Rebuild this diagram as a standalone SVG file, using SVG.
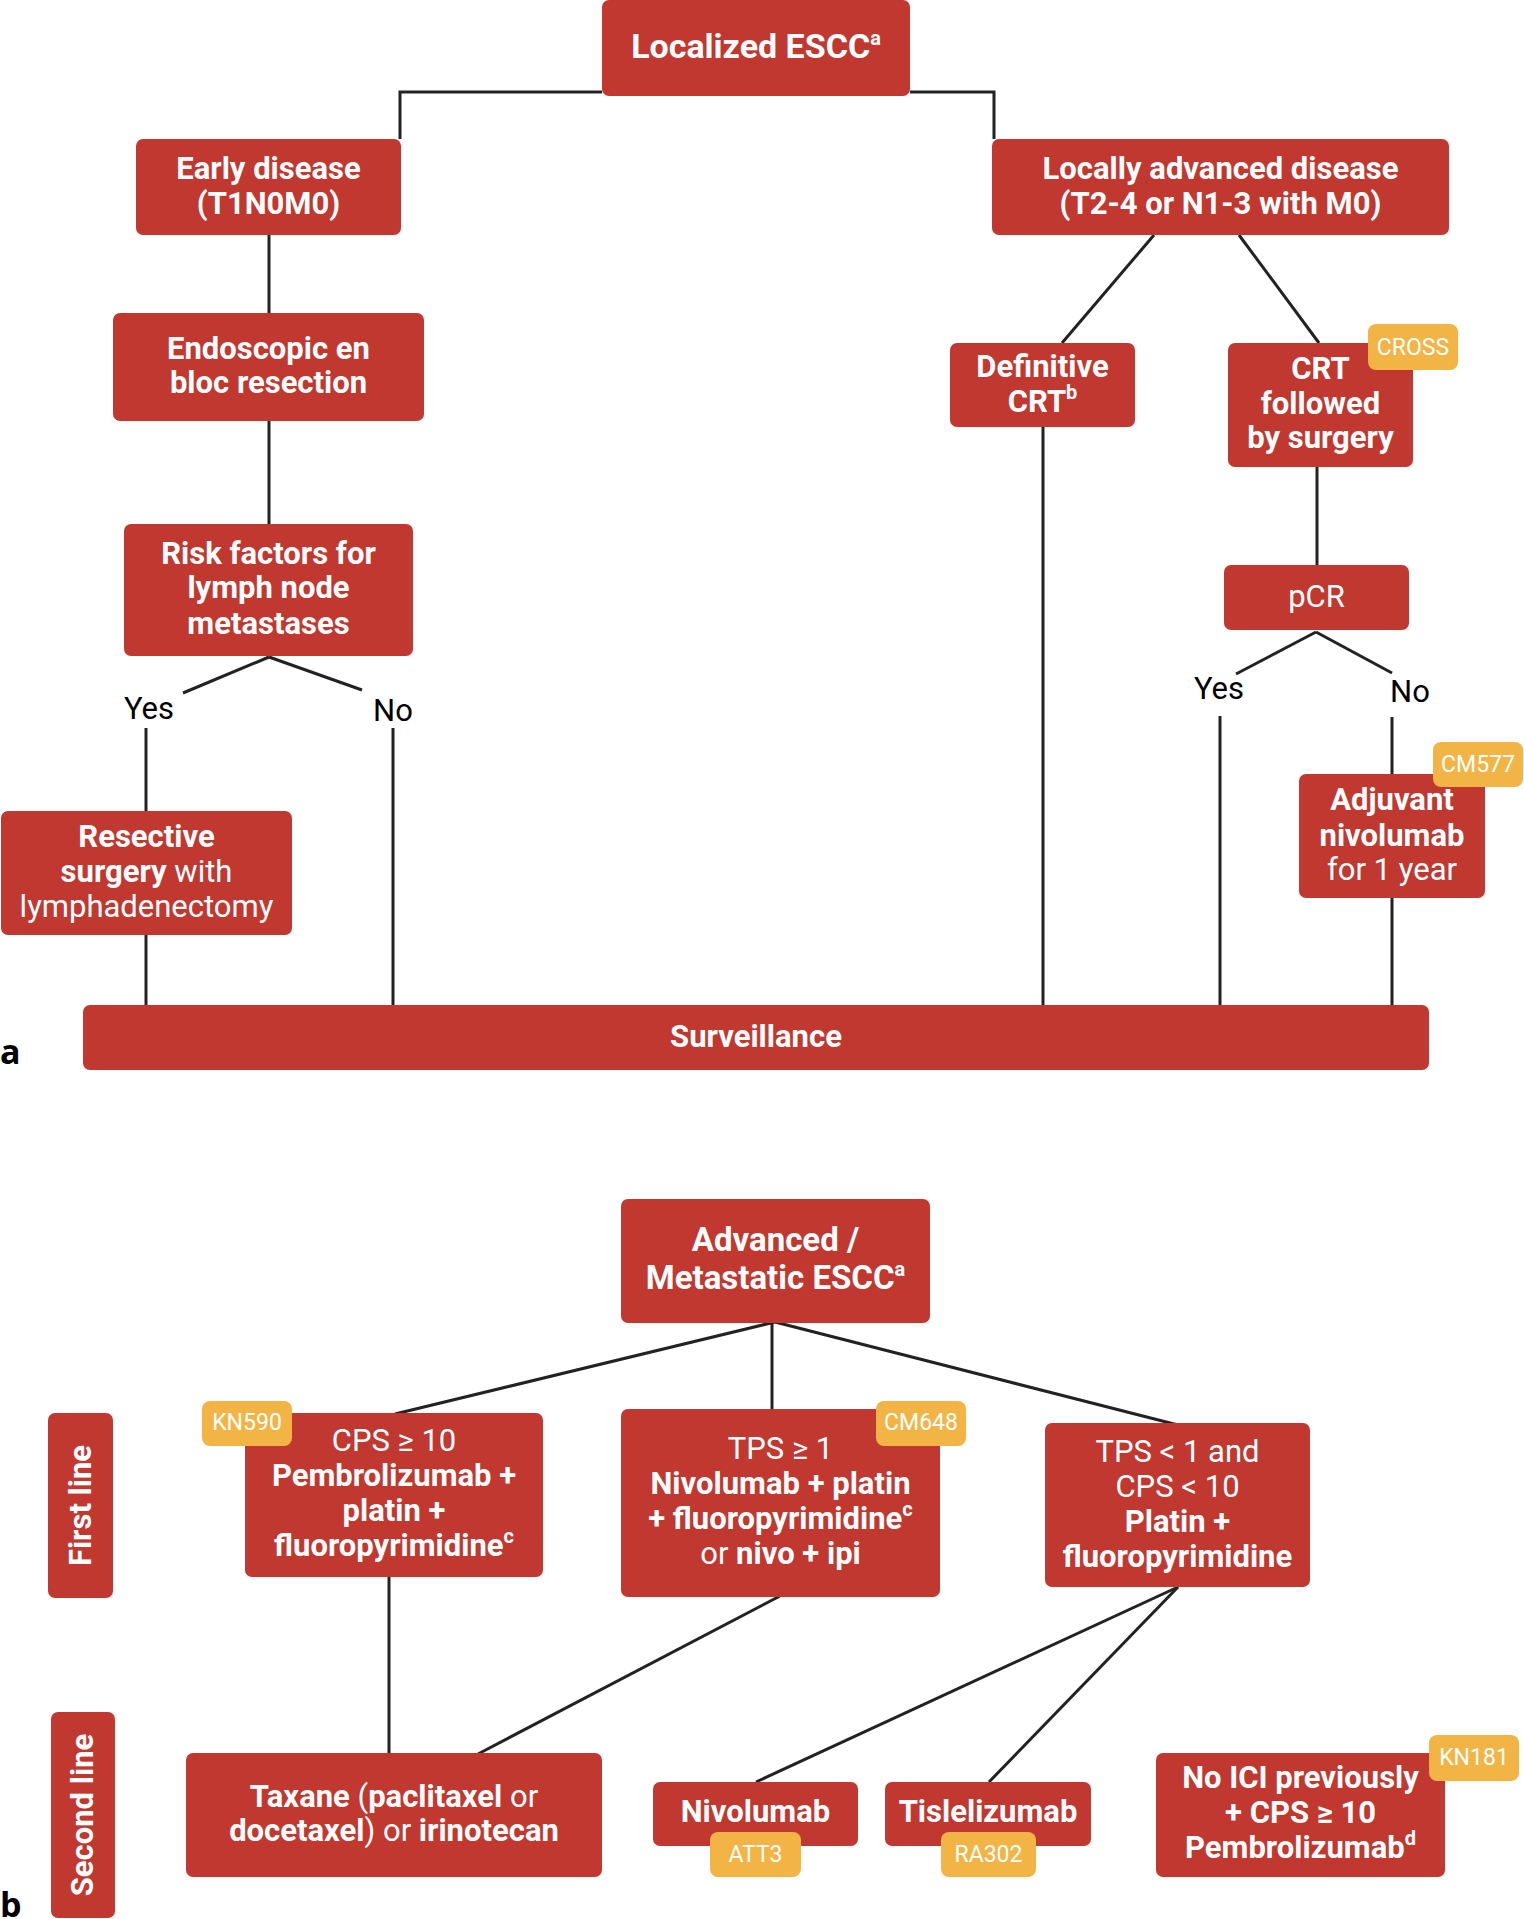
<svg xmlns="http://www.w3.org/2000/svg" width="1524" height="1919" viewBox="0 0 1524 1919">
<style>
.box{fill:#C03830}
.badge{fill:#F2B444}
.t{font-family:Roboto,"Liberation Sans",sans-serif;font-size:31px;fill:#fff;text-anchor:middle;font-weight:700}
.r{font-weight:400}
.bt{font-family:Roboto,"Liberation Sans",sans-serif;font-size:23px;fill:#fff;text-anchor:middle;font-weight:400}
.lbl{font-family:Roboto,"Liberation Sans",sans-serif;font-size:31px;fill:#000;text-anchor:middle;font-weight:400}
.pl{font-family:"Open Sans","Liberation Sans",sans-serif;font-size:34px;fill:#000;font-weight:700}
.c line,.c polyline{stroke:#222;stroke-width:3;fill:none}
</style>
<rect width="1524" height="1919" fill="#fff"/>
<g class="c" id="connectors">
<polyline points="602,92 400,92 400,139"/>
<polyline points="910,92 994,92 994,139"/>
<line x1="269" y1="235" x2="269" y2="313"/>
<line x1="269" y1="421" x2="269" y2="524"/>
<line x1="269" y1="657" x2="183" y2="693"/>
<line x1="269" y1="657" x2="362" y2="690"/>
<line x1="146" y1="728" x2="146" y2="811"/>
<line x1="393" y1="728" x2="393" y2="1005"/>
<line x1="146" y1="935" x2="146" y2="1005"/>
<line x1="1154" y1="235" x2="1062" y2="343"/>
<line x1="1239" y1="235" x2="1319" y2="343"/>
<line x1="1043" y1="427" x2="1043" y2="1005"/>
<line x1="1317" y1="467" x2="1317" y2="565"/>
<line x1="1316" y1="632" x2="1236" y2="674"/>
<line x1="1316" y1="632" x2="1392" y2="673"/>
<line x1="1220" y1="716" x2="1220" y2="1005"/>
<line x1="1392" y1="717" x2="1392" y2="774"/>
<line x1="1392" y1="898" x2="1392" y2="1005"/>
<line x1="775" y1="1322" x2="395" y2="1414"/>
<line x1="772" y1="1322" x2="772" y2="1409"/>
<line x1="775" y1="1322" x2="1178" y2="1425"/>
<line x1="389" y1="1577" x2="389" y2="1753"/>
<line x1="780" y1="1596" x2="478" y2="1754"/>
<line x1="1178" y1="1587" x2="756" y2="1782"/>
<line x1="1178" y1="1587" x2="989" y2="1782"/>
</g>
<g id="localized"><rect class="box" x="602" y="0" width="308" height="96" rx="7"/><text class="t" x="756" y="58" font-size="34" style="font-size:34px">Localized ESCC<tspan font-size="20" style="font-size:20px" dy="-13">a</tspan></text></g>
<g id="early"><rect class="box" x="136" y="139" width="265" height="96" rx="7"/><text class="t" x="268.5" y="179">Early disease</text><text class="t" x="268.5" y="214">(T1N0M0)</text></g>
<g id="locally"><rect class="box" x="992" y="139" width="457" height="96" rx="7"/><text class="t" x="1220.5" y="179">Locally advanced disease</text><text class="t" x="1220.5" y="214">(T2-4 or N1-3 with M0)</text></g>
<g id="endoscopic"><rect class="box" x="113" y="313" width="311" height="108" rx="7"/><text class="t" x="268.5" y="359">Endoscopic en</text><text class="t" x="268.5" y="393">bloc resection</text></g>
<g id="risk"><rect class="box" x="124" y="524" width="289" height="132" rx="7"/><text class="t" x="268.5" y="564">Risk factors for</text><text class="t" x="268.5" y="598">lymph node</text><text class="t" x="268.5" y="634">metastases</text></g>
<g id="yes1"><text class="lbl" x="149" y="719">Yes</text></g>
<g id="no1"><text class="lbl" x="393" y="721">No</text></g>
<g id="resective"><rect class="box" x="1" y="811" width="291" height="124" rx="7"/><text class="t" x="146.5" y="847">Resective</text><text class="t" x="146.5" y="882">surgery<tspan class="r"> with</tspan></text><text class="t r" x="146.5" y="917">lymphadenectomy</text></g>
<g id="definitive"><rect class="box" x="950" y="343" width="185" height="84" rx="7"/><text class="t" x="1042.5" y="377">Definitive</text><text class="t" x="1042.5" y="412">CRT<tspan font-size="20" style="font-size:20px" dy="-13">b</tspan></text></g>
<g id="crtsurgery"><rect class="box" x="1228" y="343" width="185" height="124" rx="7"/><text class="t" x="1320.5" y="379">CRT</text><text class="t" x="1320.5" y="414">followed</text><text class="t" x="1320.5" y="448">by surgery</text></g>
<g id="cross"><rect class="badge" x="1368" y="324" width="90" height="46" rx="8"/><text class="bt" x="1413" y="355">CROSS</text></g>
<g id="pcr"><rect class="box" x="1224" y="565" width="185" height="65" rx="7"/><text class="t r" x="1316.5" y="607">pCR</text></g>
<g id="yes2"><text class="lbl" x="1219" y="699">Yes</text></g>
<g id="no2"><text class="lbl" x="1410" y="702">No</text></g>
<g id="adjuvant"><rect class="box" x="1299" y="774" width="186" height="124" rx="7"/><text class="t" x="1392" y="810">Adjuvant</text><text class="t" x="1392" y="846">nivolumab</text><text class="t r" x="1392" y="880">for 1 year</text></g>
<g id="cm577"><rect class="badge" x="1433" y="742" width="90" height="45" rx="8"/><text class="bt" x="1478" y="772">CM577</text></g>
<g id="surveillance"><rect class="box" x="83" y="1005" width="1346" height="65" rx="7"/><text class="t" x="756" y="1047">Surveillance</text></g>
<g id="label-a"><text class="pl" x="0" y="1064">a</text></g>
<g id="advanced"><rect class="box" x="621" y="1199" width="309" height="124" rx="7"/><text class="t" x="775.5" y="1251" style="font-size:33px">Advanced /</text><text class="t" x="775.5" y="1289" style="font-size:33px">Metastatic ESCC<tspan style="font-size:20px" dy="-13">a</tspan></text></g>
<g id="firstline"><rect class="box" x="48" y="1413" width="65" height="185" rx="7"/><text class="t" transform="translate(91,1505.5) rotate(-90)">First line</text></g>
<g id="pembro"><rect class="box" x="245" y="1413" width="298" height="164" rx="7"/><text class="t r" x="394" y="1451">CPS ≥ 10</text><text class="t" x="394" y="1486">Pembrolizumab +</text><text class="t" x="394" y="1521">platin +</text><text class="t" x="394" y="1556">fluoropyrimidine<tspan style="font-size:20px" dy="-13">c</tspan></text></g>
<g id="kn590"><rect class="badge" x="202" y="1401" width="90" height="45" rx="8"/><text class="bt" x="247" y="1430">KN590</text></g>
<g id="nivoplatin"><rect class="box" x="621" y="1409" width="319" height="188" rx="7"/><text class="t r" x="780.5" y="1459">TPS ≥ 1</text><text class="t" x="780.5" y="1494">Nivolumab + platin</text><text class="t" x="780.5" y="1529">+ fluoropyrimidine<tspan style="font-size:20px" dy="-13">c</tspan></text><text class="t" x="780.5" y="1564"><tspan class="r">or </tspan>nivo + ipi</text></g>
<g id="cm648"><rect class="badge" x="876" y="1401" width="90" height="45" rx="8"/><text class="bt" x="921" y="1430">CM648</text></g>
<g id="platin"><rect class="box" x="1045" y="1423" width="265" height="164" rx="7"/><text class="t r" x="1177.5" y="1462">TPS &lt; 1 and</text><text class="t r" x="1177.5" y="1497">CPS &lt; 10</text><text class="t" x="1177.5" y="1532">Platin +</text><text class="t" x="1177.5" y="1567">fluoropyrimidine</text></g>
<g id="secondline"><rect class="box" x="51" y="1712" width="64" height="206" rx="7"/><text class="t" transform="translate(93,1815) rotate(-90)">Second line</text></g>
<g id="label-b"><text class="pl" x="0" y="1917">b</text></g>
<g id="taxane"><rect class="box" x="186" y="1753" width="416" height="124" rx="7"/><text class="t" x="394" y="1807">Taxane<tspan class="r"> (</tspan>paclitaxel<tspan class="r"> or</tspan></text><text class="t" x="394" y="1841">docetaxel<tspan class="r">) or </tspan>irinotecan</text></g>
<g id="nivolumab"><rect class="box" x="653" y="1782" width="205" height="64" rx="7"/><text class="t" x="755.5" y="1822">Nivolumab</text></g>
<g id="att3"><rect class="badge" x="710" y="1832" width="91" height="45" rx="8"/><text class="bt" x="755.5" y="1862">ATT3</text></g>
<g id="tislelizumab"><rect class="box" x="885" y="1782" width="206" height="64" rx="7"/><text class="t" x="988" y="1822">Tislelizumab</text></g>
<g id="ra302"><rect class="badge" x="941" y="1832" width="95" height="45" rx="8"/><text class="bt" x="988.5" y="1862">RA302</text></g>
<g id="noici"><rect class="box" x="1156" y="1753" width="289" height="124" rx="7"/><text class="t" x="1300.5" y="1788">No ICI previously</text><text class="t" x="1300.5" y="1823">+ CPS ≥ 10</text><text class="t" x="1300.5" y="1858">Pembrolizumab<tspan style="font-size:20px" dy="-13">d</tspan></text></g>
<g id="kn181"><rect class="badge" x="1429" y="1735" width="90" height="46" rx="8"/><text class="bt" x="1474" y="1765">KN181</text></g>
</svg>
